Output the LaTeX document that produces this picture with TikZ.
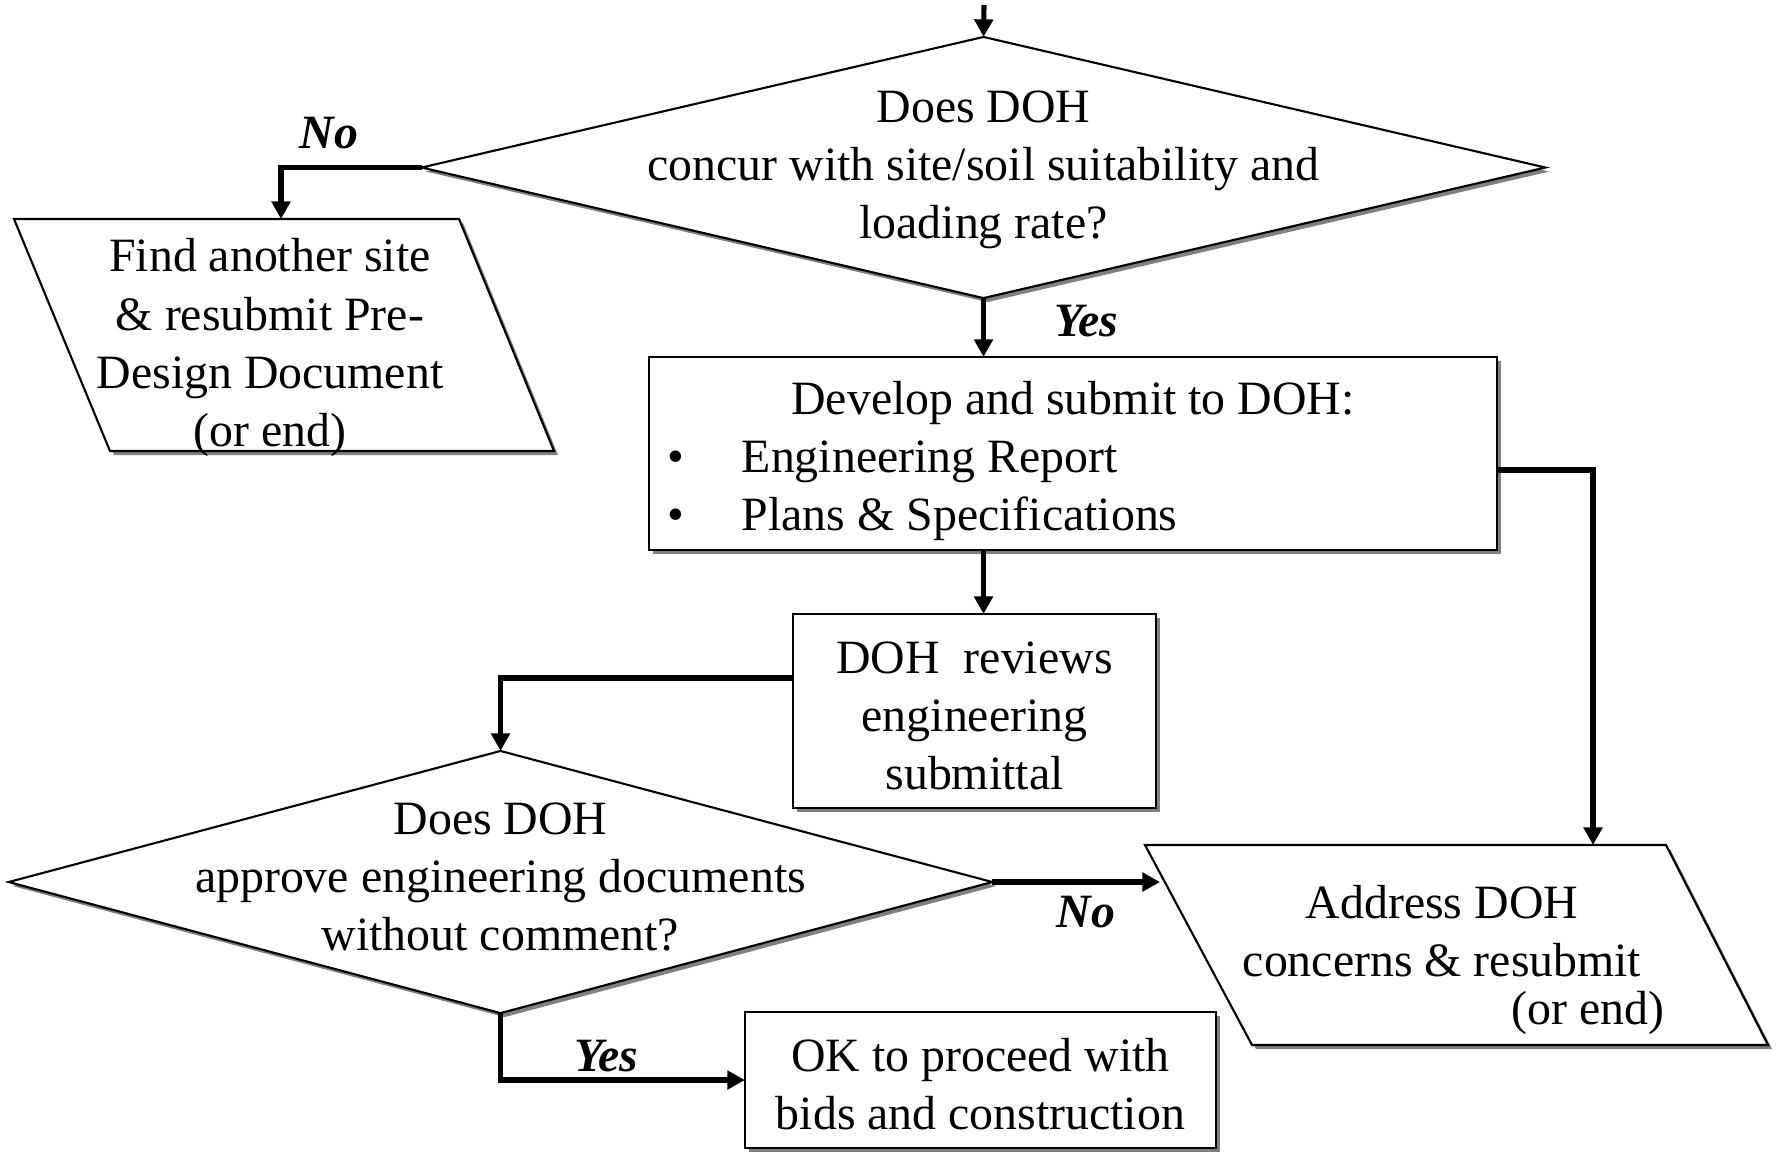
\documentclass[tikz,border=0pt]{standalone}
\usepackage{fontspec}
\setmainfont{Liberation Serif}
\usetikzlibrary{shapes.geometric,arrows.meta,shadows,calc}
\newcommand{\ctext}[2]{\makebox[0pt]{\smash{\raisebox{#1}{\begin{tabular}{@{}c@{}}#2\end{tabular}}}}}
\begin{document}
\begin{tikzpicture}[x=0.01cm,y=-0.01cm,
  font=\fontsize{13.6pt}{16.5pt}\selectfont,
  myshade/.style={drop shadow={shadow xshift=0.04cm,shadow yshift=-0.04cm,fill=black!50,opacity=1}},
  box/.style={draw,line width=0.6pt,fill=white,myshade,inner sep=0pt,outer sep=0pt},
  decision/.style={diamond,draw,line width=0.6pt,fill=white,myshade,inner sep=0pt,outer sep=0pt},
  conn/.style={line width=1.45pt,-{Triangle[length=5pt,width=5.2pt]}},
  lbl/.style={font=\fontsize{13.6pt}{16.5pt}\selectfont\bfseries\itshape,inner sep=0pt},
  txt/.style={align=center,inner sep=0pt},
  para/.style={line width=0.6pt,fill=white,draw},
  parashadow/.style={fill=black!50}
]
\useasboundingbox (0,0) rectangle (1777,1153);

% ---------- top decision ----------
\coordinate (top) at (984,5);
\node[decision,minimum width=11.23cm,minimum height=2.61cm] (d1) at (983.5,167.5)
  {\ctext{-4.1pt}{Does DOH\\concur with site/soil suitability and\\loading rate?}};

% ---------- left parallelogram ----------
\fill[parashadow,shift={(4,4)}] (14,219) -- (459,219) -- (554,451) -- (110,451) -- cycle;
\draw[para] (14,219) -- (459,219) -- (554,451) -- (110,451) -- cycle;
\node[txt] (p1) at (270,347.5) {Find another site\\\& resubmit Pre-\\Design Document\\(or end)};
\coordinate (p1top) at (281,219);

% ---------- develop box ----------
\node[box,minimum width=8.48cm,minimum height=1.93cm] (b1) at (1073,453.5)
  {\ctext{-5.7pt}{Develop and submit to DOH:\\
   \makebox[8.48cm][l]{\hspace*{0.19cm}\makebox[0.74cm][l]{\textbullet}Engineering Report}\\
   \makebox[8.48cm][l]{\hspace*{0.19cm}\makebox[0.74cm][l]{\textbullet}Plans \& Specifications}}};

% ---------- review box ----------
\node[box,minimum width=3.63cm,minimum height=1.94cm] (b2) at (974.5,711)
  {\ctext{-6pt}{DOH\ \ reviews\\engineering\\submittal}};

% ---------- lower decision ----------
\node[decision,minimum width=9.83cm,minimum height=2.62cm] (d2) at (500.5,882)
  {\ctext{-3.4pt}{Does DOH\\approve engineering documents\\without comment?}};

% ---------- right parallelogram ----------
\fill[parashadow,shift={(4,4)}] (1145,845) -- (1666,845) -- (1768,1045) -- (1252,1045) -- cycle;
\draw[para] (1145,845) -- (1666,845) -- (1768,1045) -- (1252,1045) -- cycle;
\node[txt] (p2) at (1442,960) {Address DOH\\concerns \& resubmit\\[-0.10cm]\hspace*{2.92cm}(or end)};
\coordinate (p2top) at (1593,845);
\coordinate (p2left) at (1160,882);

% ---------- OK box ----------
\node[box,minimum width=4.71cm,minimum height=1.36cm] (b3) at (980.5,1080)
  {\ctext{-6.1pt}{OK to proceed with\\bids and construction}};

% ---------- connectors ----------
\draw[conn] (top) -- (d1.north);
\draw[conn] (d1.west) -| (p1top);
\draw[conn] (d1.south) -- (b1.north -| d1.south);
\draw[conn] ([yshift=-0.165cm]b1.east) -| (p2top);
\draw[conn] (b1.south -| d1.south) -- (b2.north -| d1.south);
\draw[conn] ([yshift=0.33cm]b2.west) -| (d2.north);
\draw[conn] (d2.east) -- (p2left);
\draw[conn] (d2.south) |- (b3.west);

% ---------- labels ----------
\node[lbl] (no1) at (329,133) {No};
\node[lbl] (yes1) at (1086,321) {Yes};
\node[lbl] (no2) at (1086,912) {No};
\node[lbl] (yes2) at (606,1056) {Yes};
\end{tikzpicture}
\end{document}
